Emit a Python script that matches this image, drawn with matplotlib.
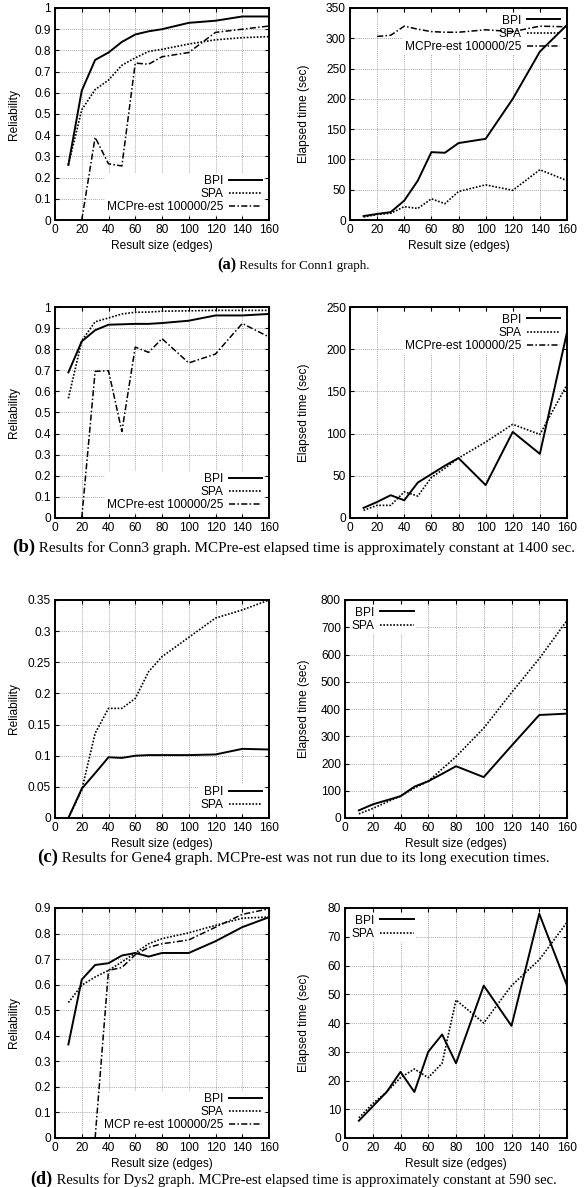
import numpy as np
import matplotlib.pyplot as plt
from matplotlib.ticker import FuncFormatter

plt.rcParams['font.family'] = ['Liberation Sans', 'DejaVu Sans']
FS = 8.6

# result sizes (edges)
x = [10, 20, 30, 40, 50, 60, 70, 80, 100, 120, 140, 160]
x_mc = [20, 30, 40, 50, 60, 70, 80, 100, 120, 140, 160]
x_mc_dys = [30, 40, 50, 60, 70, 80, 100, 120, 140, 160]

# (a) Conn1
conn1_rel_bpi = [0.26, 0.61, 0.755, 0.79, 0.84, 0.875, 0.89, 0.90, 0.93, 0.94, 0.96, 0.96]
conn1_rel_spa = [0.26, 0.52, 0.615, 0.66, 0.73, 0.765, 0.795, 0.805, 0.83, 0.85, 0.86, 0.865]
conn1_rel_mc = [0.0, 0.39, 0.265, 0.255, 0.74, 0.735, 0.77, 0.79, 0.885, 0.90, 0.915]
conn1_t_bpi = [6.5, 10, 13, 32, 65, 112, 111, 127, 134, 200, 278, 322]
conn1_t_spa = [5, 9, 11, 22, 19, 35, 27, 47, 58, 49, 83, 65]
conn1_t_mc = [303, 305, 320, 315, 311, 310, 310, 314, 311, 320, 319]

# (b) Conn3
conn3_rel_bpi = [0.69, 0.837, 0.89, 0.916, 0.918, 0.92, 0.92, 0.924, 0.935, 0.96, 0.96, 0.967]
conn3_rel_spa = [0.567, 0.84, 0.93, 0.948, 0.967, 0.975, 0.976, 0.98, 0.982, 0.984, 0.984, 0.984]
conn3_rel_mc = [0.0, 0.695, 0.698, 0.41, 0.81, 0.785, 0.85, 0.735, 0.777, 0.922, 0.858]
conn3_t_bpi = [12, 19, 27, 21, 42, 52, 62, 71, 39, 102, 76, 220]
conn3_t_spa = [9, 15, 15, 31, 26, 48, 59, 71, 90, 111, 99, 158]

# (c) Gene4
gene4_rel_bpi = [0.0, 0.047, 0.072, 0.0975, 0.0965, 0.100, 0.101, 0.101, 0.101, 0.102, 0.111, 0.110]
gene4_rel_spa = [0.0, 0.045, 0.136, 0.176, 0.176, 0.192, 0.235, 0.259, 0.29, 0.321, 0.334, 0.35]
gene4_t_bpi = [28, 50, 65, 80, 115, 135, 162, 190, 150, 265, 378, 383]
gene4_t_spa = [15, 35, 58, 80, 110, 135, 180, 225, 330, 460, 585, 725]

# (d) Dys2
dys2_rel_bpi = [0.366, 0.62, 0.677, 0.684, 0.714, 0.724, 0.71, 0.724, 0.724, 0.77, 0.825, 0.864]
dys2_rel_spa = [0.53, 0.598, 0.63, 0.656, 0.689, 0.724, 0.76, 0.78, 0.803, 0.832, 0.86, 0.865]
dys2_rel_mc = [0.0, 0.656, 0.667, 0.717, 0.746, 0.76, 0.775, 0.825, 0.875, 0.897]
dys2_t_bpi = [6, 11, 16, 23, 16, 30, 36, 26, 53, 39, 78, 53]
dys2_t_spa = [7, 12, 16, 21, 24, 21, 26, 48, 40, 53, 62, 75]

captions = [
    ('(a)', 'Results for Conn1 graph.'),
    ('(b)', 'Results for Conn3 graph. MCPre-est elapsed time is approximately constant at 1400 sec.'),
    ('(c)', 'Results for Gene4 graph. MCPre-est was not run due to its long execution times.'),
    ('(d)', 'Results for Dys2 graph. MCPre-est elapsed time is approximately constant at 590 sec.'),
]
caption_sizes = [9.4, 10.9, 10.9, 10.5]

W, H = 587, 1187
fig = plt.figure(figsize=(W / 100, H / 100), dpi=100)

BPI = dict(color='black', linestyle='-', linewidth=1.4)
SPA = dict(color='black', linestyle=(0, (1, 1)), linewidth=1.2)
MC = dict(color='black', linestyle=(0, (4, 1.5, 1, 1.5)), linewidth=1.1)


def add_ax(l, t, r, b):
    return fig.add_axes([l / W, 1 - b / H, (r - l) / W, (b - t) / H])


def style(ax, ymax, ystep, ylabel, label_px, xlabel=True, loc='lower right'):
    ax.set_xlim(0, 160)
    ax.set_ylim(0, ymax)
    ax.set_xticks(range(0, 161, 20))
    ax.set_yticks(np.arange(0, ymax + ystep / 2, ystep))
    ax.yaxis.set_major_formatter(FuncFormatter(lambda v, _: f'{round(v, 4):g}'))
    ax.grid(True, color='#888888', linestyle=(0, (1, 1.5)), linewidth=0.6)
    ax.tick_params(direction='in', top=True, right=True, length=3, width=0.8,
                   labelsize=FS, pad=3)
    for s in ax.spines.values():
        s.set_linewidth(1.4)
    ax.set_ylabel(ylabel, fontsize=FS)
    pos = ax.get_position()
    ax.yaxis.set_label_coords((label_px / W - pos.x0) / pos.width, 0.5)
    if xlabel:
        ax.set_xlabel('Result size (edges)', fontsize=FS, labelpad=3)
    leg = ax.legend(loc=loc, markerfirst=False, frameon=True, framealpha=1,
                    handlelength=2.8, handletextpad=0.5, labelspacing=0.1,
                    borderaxespad=0.4, borderpad=0.15, fontsize=FS)
    leg.get_frame().set_edgecolor('none')
    leg.get_frame().set_facecolor('white')
    leg.set_zorder(1.8)


# row (a)
ax = add_ax(55, 8, 269, 220)
ax.plot(x, conn1_rel_bpi, label='BPI', **BPI)
ax.plot(x, conn1_rel_spa, label='SPA', **SPA)
ax.plot(x_mc, conn1_rel_mc, label='MCPre-est 100000/25', **MC)
style(ax, 1, 0.1, 'Reliability', 20)

ax = add_ax(350, 8, 567, 220)
ax.plot(x, conn1_t_bpi, label='BPI', **BPI)
ax.plot(x, conn1_t_spa, label='SPA', **SPA)
ax.plot(x_mc, conn1_t_mc, label='MCPre-est 100000/25', **MC)
style(ax, 350, 50, 'Elapsed time (sec)', 310, loc='upper right')

# row (b)
ax = add_ax(55, 307, 269, 518)
ax.plot(x, conn3_rel_bpi, label='BPI', **BPI)
ax.plot(x, conn3_rel_spa, label='SPA', **SPA)
ax.plot(x_mc, conn3_rel_mc, label='MCPre-est 100000/25', **MC)
style(ax, 1, 0.1, 'Reliability', 20, xlabel=False)

ax = add_ax(350, 307, 567, 518)
ax.plot(x, conn3_t_bpi, label='BPI', **BPI)
ax.plot(x, conn3_t_spa, label='SPA', **SPA)
ax.plot([], [], label='MCPre-est 100000/25', **MC)
style(ax, 250, 50, 'Elapsed time (sec)', 310, xlabel=False, loc='upper right')

# row (c)
ax = add_ax(55, 600, 269, 818)
ax.plot(x, gene4_rel_bpi, label='BPI', **BPI)
ax.plot(x, gene4_rel_spa, label='SPA', **SPA)
style(ax, 0.35, 0.05, 'Reliability', 20)

ax = add_ax(345, 600, 567, 818)
ax.plot(x, gene4_t_bpi, label='BPI', **BPI)
ax.plot(x, gene4_t_spa, label='SPA', **SPA)
style(ax, 800, 100, 'Elapsed time (sec)', 310, loc='upper left')

# row (d)
ax = add_ax(55, 908, 269, 1138)
ax.plot(x, dys2_rel_bpi, label='BPI', **BPI)
ax.plot(x, dys2_rel_spa, label='SPA', **SPA)
ax.plot(x_mc_dys, dys2_rel_mc, label='MCP re-est 100000/25', **MC)
style(ax, 0.9, 0.1, 'Reliability', 20)

ax = add_ax(345, 908, 567, 1138)
ax.plot(x, dys2_t_bpi, label='BPI', **BPI)
ax.plot(x, dys2_t_spa, label='SPA', **SPA)
style(ax, 80, 10, 'Elapsed time (sec)', 310, loc='upper left')

# captions: bold tag + plain text, centred together
renderer = fig.canvas.get_renderer()
for (tag, text), yb, fs in zip(captions, [269, 552, 862, 1184], caption_sizes):
    t1 = fig.text(0, 1 - yb / H, tag, family='Liberation Serif', weight='bold',
                  fontsize=fs * 1.25, va='baseline')
    t2 = fig.text(0, 1 - yb / H, ' ' + text, family='Liberation Serif',
                  fontsize=fs, va='baseline')
    w1 = t1.get_window_extent(renderer).width
    w2 = t2.get_window_extent(renderer).width
    x0 = (W - w1 - w2) / 2
    t1.set_x(x0 / W)
    t2.set_x((x0 + w1) / W)

fig.savefig('out.png', dpi=100)
